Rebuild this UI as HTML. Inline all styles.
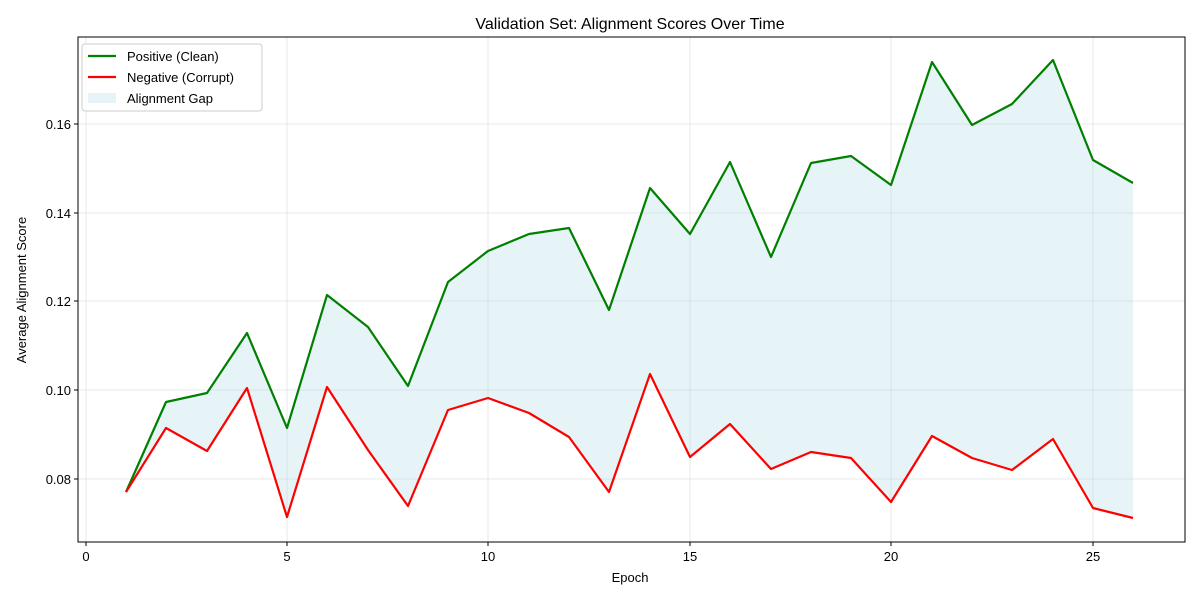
<!DOCTYPE html>
<html><head><meta charset="utf-8"><style>
html,body{margin:0;padding:0;background:#fff;}
svg{display:block;font-family:"Liberation Sans","DejaVu Sans",sans-serif;}
</style></head><body>
<svg width="1200" height="600" viewBox="0 0 1200 600" xmlns="http://www.w3.org/2000/svg">
<rect width="1200" height="600" fill="#fff"/>
<!-- grid -->
<g stroke="#b0b0b0" stroke-opacity="0.35" stroke-width="0.8">
<line x1="86" y1="37" x2="86" y2="542"/><line x1="287" y1="37" x2="287" y2="542"/><line x1="488" y1="37" x2="488" y2="542"/><line x1="690" y1="37" x2="690" y2="542"/><line x1="891" y1="37" x2="891" y2="542"/><line x1="1093" y1="37" x2="1093" y2="542"/>
<line x1="78" y1="479" x2="1185" y2="479"/><line x1="78" y1="390" x2="1185" y2="390"/><line x1="78" y1="301" x2="1185" y2="301"/><line x1="78" y1="213" x2="1185" y2="213"/><line x1="78" y1="124" x2="1185" y2="124"/>
</g>
<!-- fill -->
<polygon fill="#add8e6" fill-opacity="0.3" points="126,492 166,402 207,393 247,333 287,428 327,295 368,327 408,386 448,282 488,251 529,234 569,228 609,310 650,188 690,234 730,162 771,257 811,163 851,156 891,185 932,62 972,125 1012,104 1053,60 1093,160 1133,183 1133,518 1093,508 1053,439 1012,470 972,458 932,436 891,502 851,458 811,452 771,469 730,424 690,457 650,374 609,492 569,437 529,413 488,398 448,410 408,506 368,450 327,387 287,517 247,388 207,451 166,428 126,492"/>
<polyline fill="none" stroke="#008000" stroke-width="2.2" stroke-linejoin="round" points="126,492 166,402 207,393 247,333 287,428 327,295 368,327 408,386 448,282 488,251 529,234 569,228 609,310 650,188 690,234 730,162 771,257 811,163 851,156 891,185 932,62 972,125 1012,104 1053,60 1093,160 1133,183"/>
<polyline fill="none" stroke="#ff0000" stroke-width="2.2" stroke-linejoin="round" points="126,492 166,428 207,451 247,388 287,517 327,387 368,450 408,506 448,410 488,398 529,413 569,437 609,492 650,374 690,457 730,424 771,469 811,452 851,458 891,502 932,436 972,458 1012,470 1053,439 1093,508 1133,518"/>
<!-- axes -->
<rect x="78" y="37" width="1107" height="505" fill="none" stroke="#000" stroke-width="1"/>
<g stroke="#000" stroke-width="1">
<line x1="86" y1="542" x2="86" y2="546"/><line x1="287" y1="542" x2="287" y2="546"/><line x1="488" y1="542" x2="488" y2="546"/><line x1="690" y1="542" x2="690" y2="546"/><line x1="891" y1="542" x2="891" y2="546"/><line x1="1093" y1="542" x2="1093" y2="546"/>
<line x1="74" y1="479" x2="78" y2="479"/><line x1="74" y1="390" x2="78" y2="390"/><line x1="74" y1="301" x2="78" y2="301"/><line x1="74" y1="213" x2="78" y2="213"/><line x1="74" y1="124" x2="78" y2="124"/>
</g>
<g font-size="13" fill="#000" text-anchor="middle">
<text x="86" y="561">0</text><text x="287" y="561">5</text><text x="488" y="561">10</text><text x="690" y="561">15</text><text x="891" y="561">20</text><text x="1093" y="561">25</text>
</g>
<g font-size="13" fill="#000" text-anchor="end">
<text x="71" y="484">0.08</text><text x="71" y="395">0.10</text><text x="71" y="306">0.12</text><text x="71" y="218">0.14</text><text x="71" y="129">0.16</text>
</g>
<text x="630" y="582" font-size="13" text-anchor="middle">Epoch</text>
<text transform="translate(26,290) rotate(-90)" font-size="13" text-anchor="middle">Average Alignment Score</text>
<text x="630" y="29" font-size="16" text-anchor="middle">Validation Set: Alignment Scores Over Time</text>
<!-- legend -->
<rect x="82" y="44" width="180" height="67" rx="3" fill="#fff" fill-opacity="0.8" stroke="#ccc"/>
<line x1="88" y1="56" x2="116" y2="56" stroke="#008000" stroke-width="2.2"/>
<text x="127" y="61" font-size="13">Positive (Clean)</text>
<line x1="88" y1="77" x2="116" y2="77" stroke="#ff0000" stroke-width="2.2"/>
<text x="127" y="82" font-size="13">Negative (Corrupt)</text>
<rect x="88" y="93" width="28" height="10" fill="#add8e6" fill-opacity="0.3"/>
<text x="127" y="103" font-size="13">Alignment Gap</text>
</svg>
</body></html>
